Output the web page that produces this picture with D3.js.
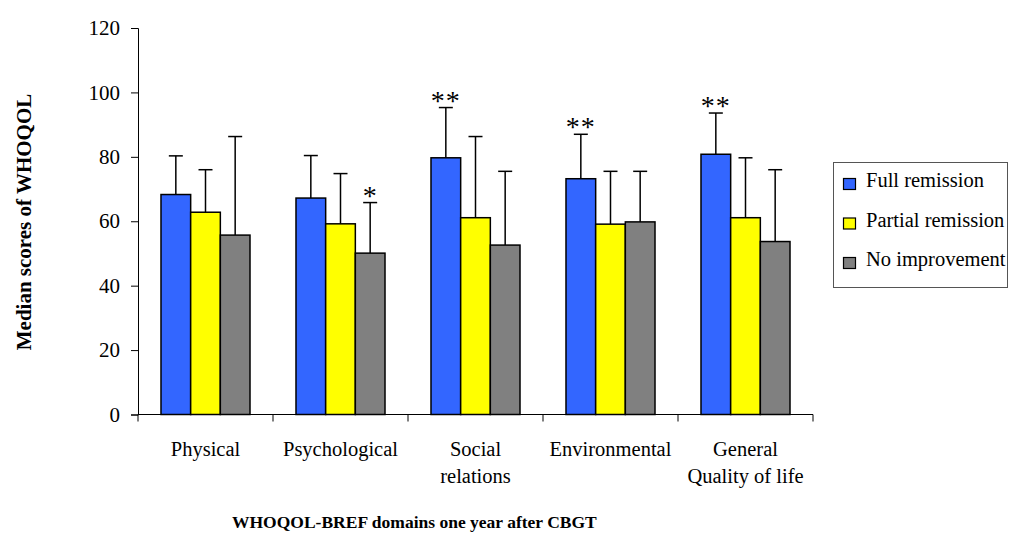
<!DOCTYPE html>
<html lang="en">
  <head>
    <meta charset="UTF-8" />
    <title>WHOQOL-BREF</title>
    <style>
      body { margin: 0; background: #fff; }
      svg text { font-family: "Liberation Serif", "DejaVu Serif", "Times New Roman", Times, serif !important; }
    </style>
  </head>
  <body>
    <div id="wrapper"></div>
    <script src="https://d3js.org/d3.v7.min.js"></script>
    <script>
      // data
      const domains = ["Physical", "Psychological", "Social relations", "Environmental", "General Quality of life"];
      const domainLines = [["Physical"], ["Psychological"], ["Social", "relations"], ["Environmental"], ["General", "Quality of life"]];
      const groups = ["Full remission", "Partial remission", "No improvement"];
      const fullMedian = [68.3, 67.2, 79.7, 73.2, 80.8];
      const partialMedian = [62.8, 59.2, 61.1, 59.1, 61.1];
      const noneMedian = [55.7, 50.1, 52.6, 59.8, 53.7];
      const fullUpper = [80.3, 80.4, 95.3, 87.0, 93.6];
      const partialUpper = [76.0, 74.8, 86.3, 75.5, 79.7];
      const noneUpper = [86.3, 65.8, 75.5, 75.5, 76.0];
      const stars = [["", "", ""], ["", "", "*"], ["**", "", ""], ["**", "", ""], ["**", "", ""]];
      const yTicks = [0, 20, 40, 60, 80, 100, 120];
      const colors = ["#3366ff", "#ffff00", "#808080"];

      const medians = [fullMedian, partialMedian, noneMedian];
      const uppers = [fullUpper, partialUpper, noneUpper];

      const width = 1014, height = 533;
      const margin = {top: 28, left: 138, right: 201, bottom: 118};

      const svg = d3.select("#wrapper").append("svg")
        .attr("width", width)
        .attr("height", height);

      const x0 = d3.scaleBand()
        .domain(domains)
        .range([margin.left, width - margin.right])
        .padding(0);

      const x1 = d3.scaleBand()
        .domain(groups)
        .range([0, x0.bandwidth()])
        .paddingInner(0)
        .paddingOuter(0.775);

      const y = d3.scaleLinear()
        .domain([0, 120])
        .range([height - margin.bottom - 0.5, margin.top]);

      // y axis
      const yAxis = svg.append("g")
        .attr("transform", "translate(" + margin.left + ",0)")
        .call(d3.axisLeft(y).tickValues(yTicks).tickSize(7).tickPadding(11));
      yAxis.attr("font-family", null);
      yAxis.select(".domain").attr("stroke", "#000");
      yAxis.selectAll(".tick line").attr("stroke", "#000");
      yAxis.selectAll(".tick text")
        .style("font-size", "21px")
        .attr("fill", "#000");

      // x axis (ticks on band edges)
      const xAxisY = y(0);
      const edges = domains.map(d => x0(d)).concat([x0(domains[domains.length - 1]) + x0.bandwidth()]);
      svg.append("line")
        .attr("x1", margin.left).attr("x2", width - margin.right)
        .attr("y1", xAxisY).attr("y2", xAxisY)
        .attr("stroke", "#000");
      svg.selectAll(".xtick").data(edges).enter().append("line")
        .attr("class", "xtick")
        .attr("x1", d => d).attr("x2", d => d)
        .attr("y1", xAxisY).attr("y2", xAxisY + 7)
        .attr("stroke", "#000");

      // category labels
      domains.forEach((d, i) => {
        const t = svg.append("text")
          .attr("x", x0(d) + x0.bandwidth() / 2)
          .attr("y", 456)
          .attr("text-anchor", "middle")
          .style("font-size", "20.5px");
        domainLines[i].forEach((line, j) => {
          t.append("tspan")
            .attr("x", x0(d) + x0.bandwidth() / 2)
            .attr("dy", j === 0 ? 0 : 27)
            .text(line);
        });
      });

      // bars
      const rows = [];
      domains.forEach((d, i) => {
        groups.forEach((g, k) => {
          rows.push({domain: d, group: g, k: k, v: medians[k][i], up: uppers[k][i], star: stars[i][k]});
        });
      });

      const cells = svg.append("g").selectAll("g")
        .data(rows).enter().append("g");

      // error bars behind bars
      cells.append("line")
        .attr("x1", d => x0(d.domain) + x1(d.group) + x1.bandwidth() / 2)
        .attr("x2", d => x0(d.domain) + x1(d.group) + x1.bandwidth() / 2)
        .attr("y1", d => y(d.v))
        .attr("y2", d => y(d.up))
        .attr("stroke", "#000")
        .attr("stroke-width", 1.5);
      cells.append("line")
        .attr("x1", d => x0(d.domain) + x1(d.group) + x1.bandwidth() / 2 - 7)
        .attr("x2", d => x0(d.domain) + x1(d.group) + x1.bandwidth() / 2 + 7)
        .attr("y1", d => y(d.up))
        .attr("y2", d => y(d.up))
        .attr("stroke", "#000")
        .attr("stroke-width", 1.5);

      cells.append("rect")
        .attr("x", d => x0(d.domain) + x1(d.group))
        .attr("y", d => y(d.v))
        .attr("width", x1.bandwidth())
        .attr("height", d => y(0) - y(d.v))
        .attr("fill", d => colors[d.k])
        .attr("stroke", "#000")
        .attr("stroke-width", 1.5);

      cells.filter(d => d.star !== "").append("text")
        .attr("x", d => x0(d.domain) + x1(d.group) + x1.bandwidth() / 2)
        .attr("y", d => y(d.up) + 2)
        .attr("text-anchor", "middle")
        .style("font-size", "28px")
        .style("letter-spacing", "1px")
        .text(d => d.star);

      // axis titles
      svg.append("text")
        .attr("transform", "translate(31,222) rotate(-90)")
        .attr("text-anchor", "middle")
        .style("font-size", "21px")
        .style("font-weight", "bold")
        .text("Median scores of  WHOQOL");

      svg.append("text")
        .attr("x", 232)
        .attr("y", 528)
        .style("font-size", "17.5px")
        .style("font-weight", "bold")
        .text("WHOQOL-BREF domains one year after CBGT");

      // legend
      const legend = svg.append("g");
      legend.append("rect")
        .attr("x", 833.5).attr("y", 162.5)
        .attr("width", 174).attr("height", 125)
        .attr("fill", "#fff")
        .attr("stroke", "#555");
      groups.forEach((g, k) => {
        const cy = 181 + k * 39.5;
        legend.append("rect")
          .attr("x", 843.5).attr("y", cy - 2.5)
          .attr("width", 12).attr("height", 11)
          .attr("fill", colors[k])
          .attr("stroke", "#000")
          .attr("stroke-width", 1.2);
        legend.append("text")
          .attr("x", 866).attr("y", cy + 6)
          .style("font-size", "20.5px")
          .text(g);
      });
    </script>
  </body>
</html>
